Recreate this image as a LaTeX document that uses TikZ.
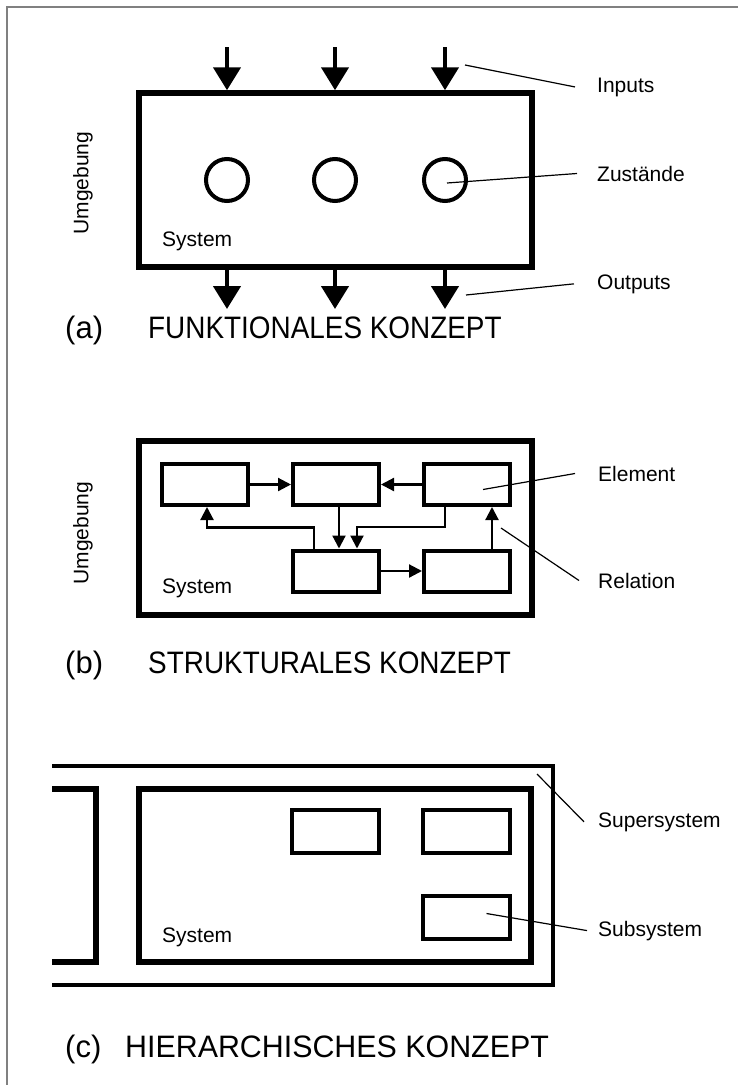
\documentclass[tikz,border=0pt]{standalone}
\usepackage{fontspec}
\setmainfont{Liberation Sans}
\usetikzlibrary{arrows.meta}

\begin{document}
\begin{tikzpicture}[x=1pt, y=-1pt,
	every node/.style={font=\fontsize{21}{25}\selectfont, inner sep=0pt},
	sysbox/.style={draw, line width=5.5pt, minimum width=393pt, minimum height=174pt},
	elembox/.style={draw, line width=4pt, minimum width=86pt, minimum height=41pt},
	statenode/.style={draw, circle, line width=4pt, minimum size=42pt},
	iotip/.style={line width=4.5pt, -{Triangle[width=27pt,length=23pt]}},
	reltip/.style={line width=2.2pt, -{Triangle[width=13pt,length=13pt]}},
	leader/.style={line width=1.2pt},
	txt/.style={anchor=base west},
	title/.style={font=\fontsize{31}{36}\selectfont, anchor=base west}]
	\useasboundingbox (0,0) rectangle (738,1085);
	\draw[gray, line width=1.5pt] (7,1085) -- (7,7) -- (738,7);

	% (a) funktionales Konzept
	\node[sysbox] (sysA) at (335.5,180) {};
	\node[statenode] (z1) at (227,180) {};
	\node[statenode] (z2) at (335,180) {};
	\node[statenode] (z3) at (445,180) {};
	\coordinate (inTop) at (0,47);
	\coordinate (outBot) at (0,309);
	\foreach \z in {z1,z2,z3} {
		\draw[iotip] (\z |- inTop) -- (\z |- sysA.north);
		\draw[iotip] (\z |- sysA.south) -- (\z |- outBot);
	}
	\node[rotate=90] (envA) at (83,183) {Umgebung};
	\node[txt] (sysAlbl) at (162,246) {System};
	\node[txt] (inputs) at (597,92) {Inputs};
	\node[txt] (states) at (597,181) {Zustände};
	\node[txt] (outputs) at (597,289) {Outputs};
	\coordinate (inPt) at (465,65);
	\coordinate (outPt) at (466,295);
	\draw[leader] (inPt) -- ([xshift=-22pt]inputs.west);
	\draw[leader] ([shift={(2,3)}]z3.center) -- ([xshift=-20pt]states.west);
	\draw[leader] (outPt) -- ([xshift=-23pt]outputs.west);
	\node[title] (tagA) at (65,338) {(a)};
	\node[title] (titleA) at (148,338) {\scalebox{0.9}[1]{FUNKTIONALES KONZEPT}};

	% (b) strukturales Konzept
	\node[sysbox] (sysB) at (335.5,528) {};
	\node[elembox] (e1) at (205,484.5) {};
	\node[elembox] (e2) at (336,484.5) {};
	\node[elembox] (e3) at (467,484.5) {};
	\node[elembox] (e4) at (336,571) {};
	\node[elembox] (e5) at (467,571) {};
	\draw[reltip] (e1.east) -- (e2.west);
	\draw[reltip] (e3.west) -- (e2.east);
	\draw[reltip] (e4.east) -- (e5.west);
	\draw[reltip] ([xshift=25pt]e5.north) -- ([xshift=25pt]e3.south);
	\draw[reltip] ([xshift=3pt]e2.south) -- ([xshift=3pt]e4.north);
	\draw[reltip] ([xshift=-22pt]e3.south) -- ++(0,20) -| ([xshift=21pt]e4.north);
	\draw[reltip] ([xshift=-22pt]e4.north) -- ++(0,-21) -| ([xshift=2pt]e1.south);
	\node[rotate=90] (envB) at (83,533) {Umgebung};
	\node[txt] (sysBlbl) at (162,593) {System};
	\node[txt] (element) at (598,481) {Element};
	\node[txt] (relation) at (598,588) {Relation};
	\draw[leader] ([shift={(16,5)}]e3.center) -- ([xshift=-23pt]element.west);
	\coordinate (relPt) at (501,528);
	\draw[leader] (relPt) -- ([xshift=-19pt]relation.west);
	\node[title] (tagB) at (65,673) {(b)};
	\node[title] (titleB) at (148,673) {\scalebox{0.9}[1]{STRUKTURALES KONZEPT}};

	% (c) hierarchisches Konzept
	\coordinate (supL) at (52,766);
	\coordinate (supR) at (553,985);
	\draw[line width=4pt] (supL) -| (supR) -- (supR -| supL);
	\draw[line width=5.5pt] (52,789) -- (96,789) -- (96,962) -- (52,962);
	\node[sysbox, minimum width=392pt, minimum height=173pt] (sysC) at (335,875.5) {};
	\node[elembox, minimum width=87pt, minimum height=43pt] (s1) at (335.5,831.5) {};
	\node[elembox, minimum width=87pt, minimum height=43pt] (s2) at (466.5,831.5) {};
	\node[elembox, minimum width=87pt, minimum height=43pt] (s3) at (466.5,917.5) {};
	\node[txt] (sysClbl) at (162,942) {System};
	\node[txt] (supersys) at (598,827) {Supersystem};
	\node[txt] (subsys) at (598,936) {Subsystem};
	\coordinate (supPt) at (537,774);
	\draw[leader] (supPt) -- ([xshift=-14pt]supersys.west);
	\draw[leader] ([shift={(20,-4)}]s3.center) -- ([xshift=-11pt]subsys.west);
	\node[title] (tagC) at (65,1057) {(c)};
	\node[title] (titleC) at (125,1057) {\scalebox{0.98}[1]{HIERARCHISCHES KONZEPT}};
\end{tikzpicture}
\end{document}
